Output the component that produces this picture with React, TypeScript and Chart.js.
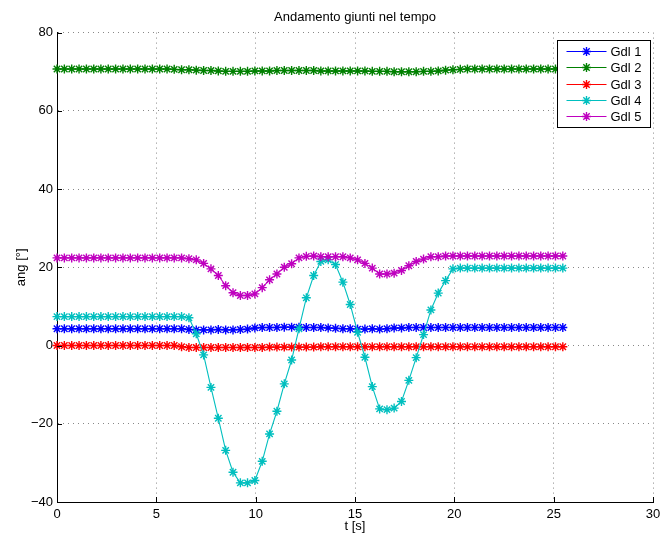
import React, { useEffect, useRef } from 'react';
import { Chart, registerables } from 'chart.js';

Chart.register(...registerables);

const TITLE = 'Andamento giunti nel tempo';
const X_TITLE = 't [s]';
const Y_TITLE = 'ang [°]';

const TIME_S = [
  0, 0.37, 0.74, 1.11, 1.48, 1.85, 2.21, 2.58, 2.95, 3.32,
  3.69, 4.06, 4.43, 4.8, 5.17, 5.54, 5.9, 6.27, 6.64, 7.01,
  7.38, 7.75, 8.12, 8.49, 8.86, 9.23, 9.59, 9.96, 10.33, 10.7,
  11.07, 11.44, 11.81, 12.18, 12.55, 12.92, 13.28, 13.65, 14.02, 14.39,
  14.76, 15.13, 15.5, 15.87, 16.24, 16.61, 16.97, 17.34, 17.71, 18.08,
  18.45, 18.82, 19.19, 19.56, 19.93, 20.3, 20.66, 21.03, 21.4, 21.77,
  22.14, 22.51, 22.88, 23.25, 23.62, 23.99, 24.35, 24.72, 25.09, 25.46,
];

const GDL_1 = [
  4.3, 4.3, 4.3, 4.3, 4.3, 4.3, 4.3, 4.3, 4.3, 4.3,
  4.3, 4.3, 4.3, 4.3, 4.3, 4.3, 4.3, 4.3, 4.1, 4.0,
  4.0, 4.0, 4.1, 4.0, 4.0, 4.1, 4.2, 4.5, 4.6, 4.6,
  4.6, 4.7, 4.7, 4.7, 4.6, 4.6, 4.6, 4.5, 4.4, 4.3,
  4.3, 4.2, 4.2, 4.3, 4.2, 4.3, 4.5, 4.5, 4.6, 4.6,
  4.6, 4.6, 4.6, 4.6, 4.6, 4.6, 4.6, 4.6, 4.6, 4.6,
  4.6, 4.6, 4.6, 4.6, 4.6, 4.6, 4.6, 4.6, 4.6, 4.6,
];

const GDL_2 = [
  70.7, 70.7, 70.7, 70.7, 70.7, 70.7, 70.7, 70.7, 70.7, 70.7,
  70.7, 70.7, 70.7, 70.7, 70.7, 70.7, 70.6, 70.5, 70.5, 70.4,
  70.3, 70.3, 70.2, 70.1, 70.1, 70.1, 70.1, 70.2, 70.2, 70.2,
  70.3, 70.3, 70.3, 70.3, 70.3, 70.3, 70.2, 70.2, 70.2, 70.2,
  70.2, 70.2, 70.2, 70.1, 70.1, 70.1, 70.0, 70.0, 70.0, 70.0,
  70.1, 70.1, 70.2, 70.4, 70.5, 70.6, 70.7, 70.7, 70.7, 70.7,
  70.7, 70.7, 70.7, 70.7, 70.7, 70.7, 70.7, 70.7, 70.7, 70.7,
];

const GDL_3 = [
  0.0, 0.0, 0.0, 0.0, 0.0, 0.0, 0.0, 0.0, 0.0, 0.0,
  0.0, 0.0, 0.0, 0.0, 0.0, 0.0, 0.0, -0.3, -0.5, -0.5,
  -0.5, -0.5, -0.5, -0.5, -0.5, -0.5, -0.5, -0.5, -0.5, -0.4,
  -0.4, -0.4, -0.4, -0.4, -0.4, -0.4, -0.3, -0.3, -0.3, -0.3,
  -0.3, -0.3, -0.3, -0.3, -0.3, -0.3, -0.3, -0.3, -0.3, -0.3,
  -0.3, -0.3, -0.3, -0.3, -0.3, -0.3, -0.3, -0.3, -0.3, -0.3,
  -0.3, -0.3, -0.3, -0.3, -0.3, -0.3, -0.3, -0.3, -0.3, -0.3,
];

const GDL_4 = [
  7.4, 7.4, 7.4, 7.4, 7.4, 7.4, 7.4, 7.4, 7.4, 7.4,
  7.4, 7.4, 7.4, 7.4, 7.4, 7.4, 7.4, 7.4, 7.1, 3.0,
  -2.4, -10.7, -18.6, -26.8, -32.4, -35.1, -35.1, -34.5, -29.6, -22.6,
  -16.8, -9.8, -3.7, 4.3, 12.2, 17.9, 21.5, 21.9, 20.7, 16.2,
  10.5, 3.4, -3.0, -10.5, -16.2, -16.4, -16.0, -14.3, -8.9, -3.1,
  2.8, 9.1, 13.4, 16.6, 19.6, 19.8, 19.8, 19.8, 19.8, 19.8,
  19.8, 19.8, 19.8, 19.8, 19.8, 19.8, 19.8, 19.8, 19.8, 19.8,
];

const GDL_5 = [
  22.4, 22.4, 22.4, 22.4, 22.4, 22.4, 22.4, 22.4, 22.4, 22.4,
  22.4, 22.4, 22.4, 22.4, 22.4, 22.4, 22.4, 22.4, 22.2, 21.9,
  21.0, 19.6, 17.9, 15.3, 13.5, 12.8, 12.8, 13.2, 14.8, 16.8,
  18.3, 20.0, 20.9, 22.4, 22.8, 22.9, 22.7, 22.7, 22.7, 22.7,
  22.4, 21.9, 21.0, 19.8, 18.3, 18.3, 18.5, 19.2, 20.4, 21.5,
  22.1, 22.7, 22.7, 22.9, 22.9, 22.9, 22.9, 22.9, 22.9, 22.9,
  22.9, 22.9, 22.9, 22.9, 22.9, 22.9, 22.9, 22.9, 22.9, 22.9,
];

const SERIES_LABELS = ['Gdl 1', 'Gdl 2', 'Gdl 3', 'Gdl 4', 'Gdl 5'];
const SERIES_VALUES = [GDL_1, GDL_2, GDL_3, GDL_4, GDL_5];
const SERIES_COLORS = ['#0000ff', '#008000', '#ff0000', '#00bfbf', '#bf00bf'];

const X_MIN = 0;
const X_MAX = 30;
const X_STEP = 5;
const Y_MIN = -40;
const Y_MAX = 80;
const Y_STEP = 20;

const FONT = "'Liberation Sans', Arial, Helvetica, sans-serif";

function drawStar(ctx: CanvasRenderingContext2D, x: number, y: number, r: number) {
  const d = r * Math.SQRT1_2;
  ctx.beginPath();
  ctx.moveTo(x - r, y);
  ctx.lineTo(x + r, y);
  ctx.moveTo(x, y - r);
  ctx.lineTo(x, y + r);
  ctx.moveTo(x - d, y - d);
  ctx.lineTo(x + d, y + d);
  ctx.moveTo(x - d, y + d);
  ctx.lineTo(x + d, y - d);
  ctx.stroke();
}

const matlabDecor = {
  id: 'matlabDecor',
  afterDraw(chart: any) {
    const ctx: CanvasRenderingContext2D = chart.ctx;
    const area = chart.chartArea;
    const xs = chart.scales.x;
    const ys = chart.scales.y;
    ctx.save();
    // inward ticks (MATLAB style)
    ctx.strokeStyle = '#000';
    ctx.lineWidth = 1;
    ctx.beginPath();
    xs.ticks.forEach((t: any) => {
      const px = Math.round(xs.getPixelForValue(t.value)) + 0.5;
      ctx.moveTo(px, area.bottom);
      ctx.lineTo(px, area.bottom - 5);
    });
    ys.ticks.forEach((t: any) => {
      const py = Math.round(ys.getPixelForValue(t.value)) + 0.5;
      ctx.moveTo(area.left, py);
      ctx.lineTo(area.left + 5, py);
    });
    ctx.stroke();

    // legend box
    const right = Math.round(area.right - 3) + 0.5;
    const top = Math.round(area.top + 7) + 0.5;
    const w = 93;
    const h = 87;
    const left = right - w;
    ctx.fillStyle = '#fff';
    ctx.fillRect(left, top, w, h);
    ctx.strokeStyle = '#000';
    ctx.lineWidth = 1;
    ctx.strokeRect(left, top, w, h);
    ctx.font = `13px ${FONT}`;
    ctx.textBaseline = 'middle';
    ctx.textAlign = 'left';
    const ds = chart.data.datasets;
    for (let i = 0; i < ds.length; i++) {
      const cy = Math.round(top + 10.5 + i * 16.3) + 0.5;
      const color = ds[i].borderColor;
      ctx.strokeStyle = color;
      ctx.lineWidth = 1;
      ctx.beginPath();
      ctx.moveTo(left + 9, cy);
      ctx.lineTo(left + 49, cy);
      ctx.stroke();
      ctx.lineWidth = 1.4;
      drawStar(ctx, left + 29, cy, 4.5);
      ctx.fillStyle = '#000';
      ctx.fillText(ds[i].label, left + 53, cy + 0.5);
    }
    ctx.restore();
  },
};

export default function App() {
  const canvasRef = useRef<HTMLCanvasElement | null>(null);

  useEffect(() => {
    const canvas = canvasRef.current;
    if (!canvas) return;
    Chart.defaults.font.family = FONT;
    Chart.defaults.font.size = 13;
    Chart.defaults.color = '#000';

    const datasets = SERIES_LABELS.map((label, si) => ({
      label,
      data: TIME_S.map((t, i) => ({ x: t, y: SERIES_VALUES[si][i] })),
      borderColor: SERIES_COLORS[si],
      backgroundColor: SERIES_COLORS[si],
      borderWidth: 1.1,
      pointStyle: 'star' as const,
      pointRadius: 4.5,
      pointBorderWidth: 1.4,
      pointBorderColor: SERIES_COLORS[si],
      pointBackgroundColor: SERIES_COLORS[si],
      tension: 0,
      fill: false,
      clip: false as any,
      order: SERIES_LABELS.length - si,
    }));

    const chart = new Chart(canvas, {
      type: 'line',
      data: { datasets },
      plugins: [matlabDecor],
      options: {
        animation: false,
        responsive: false,
        devicePixelRatio: 1,
        events: [],
        layout: { padding: { left: 0, right: 8, top: 0, bottom: 0 } },
        plugins: {
          legend: { display: false },
          tooltip: { enabled: false },
          title: {
            display: true,
            text: TITLE,
            fullSize: false,
            color: '#000',
            font: { family: FONT, size: 13, weight: 'normal' },
            padding: { top: 10, bottom: 7 },
          },
        },
        scales: {
          x: {
            type: 'linear',
            min: X_MIN,
            max: X_MAX,
            ticks: { stepSize: X_STEP, padding: 5, color: '#000', font: { family: FONT, size: 13 }, maxRotation: 0 },
            grid: { color: '#888', lineWidth: 1, drawTicks: false, borderDash: [1, 4] } as any,
            border: { display: true, color: '#000', width: 1, dash: [1, 4] },
            title: { display: true, text: X_TITLE, color: '#000', font: { family: FONT, size: 13 }, padding: { top: 0, bottom: 6 } },
            afterFit: (scale: any) => {
              scale.height = 38;
              scale.paddingRight = 0;
              scale.paddingLeft = 0;
            },
          },
          y: {
            type: 'linear',
            min: Y_MIN,
            max: Y_MAX,
            ticks: {
              stepSize: Y_STEP,
              padding: 4,
              color: '#000',
              font: { family: FONT, size: 13 },
              callback: (v: any) => String(v).replace('-', '\u2212'),
            },
            grid: { color: '#888', lineWidth: 1, drawTicks: false, borderDash: [1, 4] } as any,
            border: { display: true, color: '#000', width: 1, dash: [1, 4] },
            title: { display: true, text: Y_TITLE, color: '#000', font: { family: FONT, size: 13 }, padding: { top: 14, bottom: 0 } },
            afterFit: (scale: any) => { scale.width = 57; },
          },
        },
      } as any,
    });

    return () => chart.destroy();
  }, []);

  return (
    <div style={{ position: 'fixed', left: 0, top: 0, width: 661, height: 540, background: '#fff' }}>
      <canvas ref={canvasRef} width={661} height={540} style={{ width: 661, height: 540, display: 'block' }} />
    </div>
  );
}
